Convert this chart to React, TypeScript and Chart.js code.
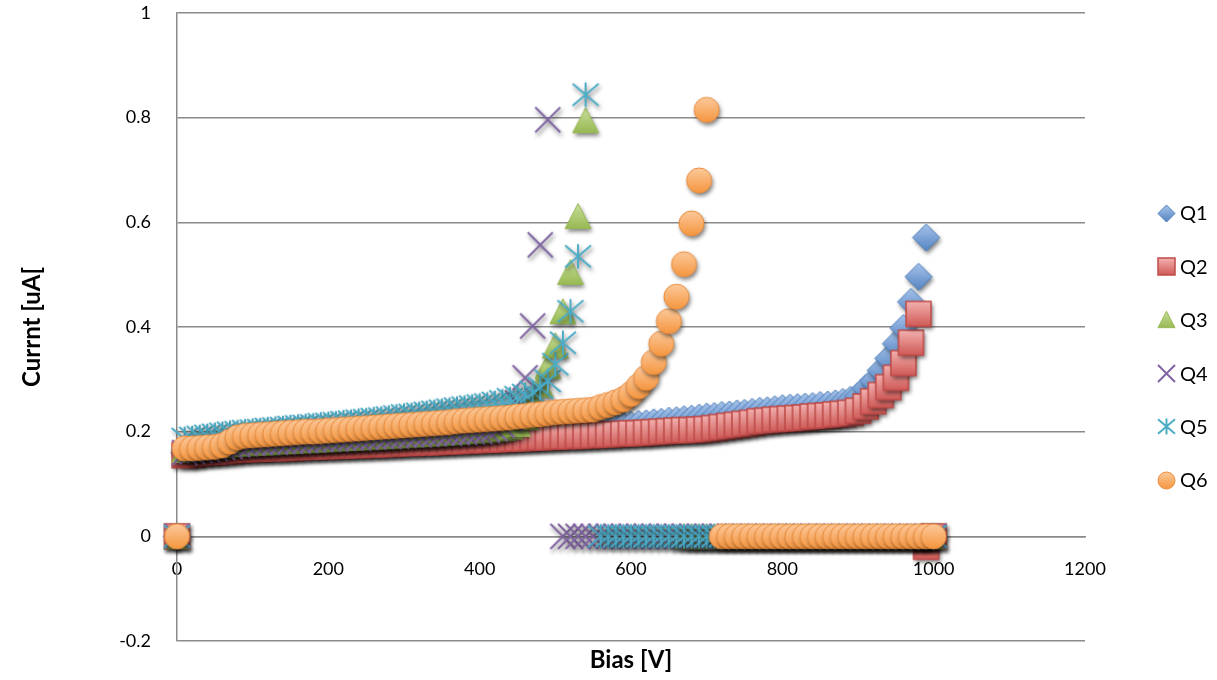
import React, { useEffect, useRef } from 'react';
import { Chart, registerables } from 'chart.js';

Chart.register(...registerables);

// ---------- data ----------
const biasV = [
  0,
  10, 20, 30, 40, 50, 60, 70, 80, 90, 100,
  110, 120, 130, 140, 150, 160, 170, 180, 190, 200,
  210, 220, 230, 240, 250, 260, 270, 280, 290, 300,
  310, 320, 330, 340, 350, 360, 370, 380, 390, 400,
  410, 420, 430, 440, 450, 460, 470, 480, 490, 500,
  510, 520, 530, 540, 550, 560, 570, 580, 590, 600,
  610, 620, 630, 640, 650, 660, 670, 680, 690, 700,
  710, 720, 730, 740, 750, 760, 770, 780, 790, 800,
  810, 820, 830, 840, 850, 860, 870, 880, 890, 900,
  910, 920, 930, 940, 950, 960, 970, 980, 990, 1000,
];

const q1 = [
  0,
  0.160, 0.162, 0.164, 0.166, 0.168, 0.170, 0.172, 0.174, 0.176, 0.177,
  0.178, 0.178, 0.179, 0.180, 0.180, 0.181, 0.182, 0.182, 0.183, 0.184,
  0.184, 0.185, 0.185, 0.186, 0.187, 0.187, 0.188, 0.188, 0.189, 0.190,
  0.190, 0.191, 0.192, 0.192, 0.193, 0.194, 0.194, 0.195, 0.196, 0.196,
  0.197, 0.198, 0.198, 0.199, 0.200, 0.200, 0.201, 0.202, 0.203, 0.203,
  0.204, 0.205, 0.205, 0.206, 0.207, 0.208, 0.209, 0.210, 0.211, 0.213,
  0.215, 0.216, 0.218, 0.219, 0.221, 0.222, 0.224, 0.225, 0.227, 0.229,
  0.230, 0.232, 0.233, 0.235, 0.236, 0.238, 0.240, 0.241, 0.243, 0.245,
  0.246, 0.247, 0.248, 0.249, 0.251, 0.252, 0.254, 0.257, 0.261, 0.268,
  0.283, 0.297, 0.317, 0.340, 0.368, 0.398, 0.448, 0.496, 0.571, 0,
];

const q2 = [
  0,
  0.155, 0.156, 0.159, 0.160, 0.161, 0.162, 0.163, 0.165, 0.166, 0.167,
  0.167, 0.168, 0.168, 0.169, 0.169, 0.170, 0.171, 0.171, 0.172, 0.172,
  0.173, 0.173, 0.174, 0.174, 0.175, 0.175, 0.176, 0.176, 0.177, 0.178,
  0.178, 0.179, 0.179, 0.180, 0.180, 0.181, 0.182, 0.182, 0.183, 0.184,
  0.184, 0.185, 0.185, 0.186, 0.187, 0.187, 0.188, 0.189, 0.189, 0.190,
  0.191, 0.191, 0.192, 0.192, 0.193, 0.194, 0.194, 0.195, 0.196, 0.197,
  0.197, 0.198, 0.199, 0.200, 0.201, 0.202, 0.203, 0.203, 0.204, 0.205,
  0.207, 0.209, 0.211, 0.213, 0.215, 0.217, 0.220, 0.221, 0.223, 0.224,
  0.225, 0.226, 0.227, 0.229, 0.230, 0.231, 0.233, 0.234, 0.236, 0.240,
  0.248, 0.258, 0.270, 0.285, 0.303, 0.331, 0.370, 0.425, -0.020, 0,
];

const q3 = [
  0,
  0.165, 0.167, 0.169, 0.170, 0.172, 0.173, 0.175, 0.176, 0.177, 0.178,
  0.179, 0.179, 0.180, 0.181, 0.182, 0.182, 0.183, 0.184, 0.185, 0.185,
  0.186, 0.187, 0.188, 0.188, 0.189, 0.190, 0.191, 0.191, 0.192, 0.193,
  0.194, 0.195, 0.195, 0.196, 0.197, 0.198, 0.199, 0.200, 0.201, 0.202,
  0.203, 0.205, 0.207, 0.210, 0.215, 0.228, 0.260, 0.290, 0.325, 0.365,
  0.430, 0.505, 0.612, 0.795, null, null, null, null, null, null,
  null, null, null, null, null, null, 0, 0, 0, 0,
  0, 0, 0, 0, 0, 0, 0, 0, 0, 0,
  0, 0, 0, 0, 0, 0, 0, 0, 0, 0,
  0, 0, 0, 0, 0, 0, 0, 0, 0, 0,
];

const q4 = [
  0,
  0.160, 0.162, 0.164, 0.166, 0.168, 0.170, 0.172, 0.175, 0.177, 0.178,
  0.179, 0.180, 0.180, 0.181, 0.182, 0.182, 0.183, 0.184, 0.185, 0.186,
  0.186, 0.187, 0.188, 0.188, 0.189, 0.190, 0.191, 0.191, 0.192, 0.193,
  0.194, 0.194, 0.195, 0.196, 0.197, 0.197, 0.198, 0.199, 0.200, 0.201,
  0.203, 0.206, 0.212, 0.225, 0.255, 0.303, 0.402, 0.557, 0.796, null,
  0, 0, 0, 0, 0, 0, 0, 0, 0, 0,
  0, 0, 0, 0, 0, 0, 0, 0, 0, 0,
  0, 0, 0, 0, 0, 0, 0, 0, 0, 0,
  0, 0, 0, 0, 0, 0, 0, 0, 0, 0,
  0, 0, 0, 0, 0, 0, 0, 0, 0, 0,
];

const q5 = [
  0,
  0.186, 0.188, 0.190, 0.192, 0.194, 0.196, 0.198, 0.199, 0.201, 0.202,
  0.203, 0.205, 0.206, 0.207, 0.209, 0.210, 0.211, 0.212, 0.214, 0.215,
  0.216, 0.218, 0.219, 0.221, 0.222, 0.224, 0.225, 0.227, 0.229, 0.231,
  0.232, 0.234, 0.236, 0.238, 0.240, 0.242, 0.244, 0.246, 0.248, 0.250,
  0.252, 0.255, 0.258, 0.262, 0.266, 0.270, 0.276, 0.284, 0.297, 0.329,
  0.370, 0.430, 0.535, 0.844, null, 0, 0, 0, 0, 0,
  0, 0, 0, 0, 0, 0, 0, 0, 0, 0,
  0, 0, 0, 0, 0, 0, 0, 0, 0, 0,
  0, 0, 0, 0, 0, 0, 0, 0, 0, 0,
  0, 0, 0, 0, 0, 0, 0, 0, 0, 0,
];

const q6 = [
  0,
  0.168, 0.168, 0.169, 0.170, 0.171, 0.174, 0.181, 0.189, 0.192, 0.193,
  0.194, 0.195, 0.196, 0.197, 0.198, 0.199, 0.200, 0.200, 0.201, 0.202,
  0.203, 0.204, 0.205, 0.206, 0.207, 0.208, 0.209, 0.210, 0.211, 0.212,
  0.213, 0.214, 0.215, 0.216, 0.217, 0.218, 0.220, 0.221, 0.222, 0.223,
  0.224, 0.225, 0.226, 0.227, 0.229, 0.230, 0.232, 0.233, 0.235, 0.237,
  0.238, 0.239, 0.240, 0.241, 0.242, 0.247, 0.251, 0.256, 0.262, 0.272,
  0.287, 0.303, 0.333, 0.368, 0.411, 0.458, 0.520, 0.598, 0.680, 0.815,
  null, 0, 0, 0, 0, 0, 0, 0, 0, 0,
  0, 0, 0, 0, 0, 0, 0, 0, 0, 0,
  0, 0, 0, 0, 0, 0, 0, 0, 0, 0,
];

const seriesNames = ['Q1', 'Q2', 'Q3', 'Q4', 'Q5', 'Q6'];
const seriesValues = [q1, q2, q3, q4, q5, q6];

const xTitle = 'Bias [V]';
const yTitle = 'Currnt [uA[';

// ---------- styling ----------
const FONT = 'Lato, "Liberation Sans", sans-serif';
const GRID = '#8a8a8a';

type Shape = 'diamond' | 'square' | 'triangle' | 'x' | 'star' | 'circle';
interface MarkerSpec { shape: Shape; top: string; bottom: string; stroke: string; lw: number; size: number; }

const markerSpecs: MarkerSpec[] = [
  { shape: 'diamond', top: '#A6C3EA', bottom: '#5584C2', stroke: '#4A7EBB', lw: 1, size: 27 },
  { shape: 'square', top: '#F3B1AF', bottom: '#CF5A57', stroke: '#BE4B48', lw: 1.5, size: 25 },
  { shape: 'triangle', top: '#CADF9C', bottom: '#96B852', stroke: '#98B954', lw: 1, size: 26 },
  { shape: 'x', top: '#8064A2', bottom: '#8064A2', stroke: '#8064A2', lw: 2, size: 25 },
  { shape: 'star', top: '#4BACC6', bottom: '#4BACC6', stroke: '#4BACC6', lw: 2, size: 26 },
  { shape: 'circle', top: '#FCC99B', bottom: '#F5963F', stroke: '#EB8C3C', lw: 1, size: 25 },
];

function makeMarker(spec: MarkerSpec, size: number, shadow: boolean): HTMLCanvasElement {
  const m = shadow ? 8 : 3;
  const dim = Math.ceil(size + 2 * m);
  const c = document.createElement('canvas');
  c.width = dim;
  c.height = dim;
  const ctx = c.getContext('2d') as CanvasRenderingContext2D;
  const cx = dim / 2;
  const cy = dim / 2;
  const h = size / 2;
  const setShadow = (on: boolean) => {
    if (on && shadow) {
      ctx.shadowColor = 'rgba(0,0,0,0.5)';
      ctx.shadowBlur = 4;
      ctx.shadowOffsetX = 1.5;
      ctx.shadowOffsetY = 3;
    } else {
      ctx.shadowColor = 'rgba(0,0,0,0)';
      ctx.shadowBlur = 0;
      ctx.shadowOffsetX = 0;
      ctx.shadowOffsetY = 0;
    }
  };
  const grad = ctx.createLinearGradient(0, cy - h, 0, cy + h);
  grad.addColorStop(0, spec.top);
  grad.addColorStop(1, spec.bottom);
  ctx.lineJoin = 'miter';
  ctx.beginPath();
  let filled = true;
  switch (spec.shape) {
    case 'diamond':
      ctx.moveTo(cx, cy - h);
      ctx.lineTo(cx + h, cy);
      ctx.lineTo(cx, cy + h);
      ctx.lineTo(cx - h, cy);
      ctx.closePath();
      break;
    case 'square':
      ctx.rect(cx - h, cy - h, 2 * h, 2 * h);
      break;
    case 'triangle':
      ctx.moveTo(cx, cy - h * 0.96);
      ctx.lineTo(cx + h, cy + h * 0.96);
      ctx.lineTo(cx - h, cy + h * 0.96);
      ctx.closePath();
      break;
    case 'circle':
      ctx.arc(cx, cy, h, 0, Math.PI * 2);
      break;
    case 'x':
      filled = false;
      ctx.moveTo(cx - h, cy - h);
      ctx.lineTo(cx + h, cy + h);
      ctx.moveTo(cx + h, cy - h);
      ctx.lineTo(cx - h, cy + h);
      break;
    case 'star':
      filled = false;
      ctx.moveTo(cx - h, cy - h * 0.85);
      ctx.lineTo(cx + h, cy + h * 0.85);
      ctx.moveTo(cx + h, cy - h * 0.85);
      ctx.lineTo(cx - h, cy + h * 0.85);
      ctx.moveTo(cx, cy - h * 0.95);
      ctx.lineTo(cx, cy + h * 0.95);
      break;
  }
  if (filled) {
    setShadow(true);
    ctx.fillStyle = grad;
    ctx.fill();
    setShadow(false);
    ctx.lineWidth = spec.lw;
    ctx.strokeStyle = spec.stroke;
    ctx.stroke();
  } else {
    setShadow(true);
    ctx.lineWidth = spec.lw;
    ctx.strokeStyle = spec.stroke;
    ctx.stroke();
  }
  return c;
}

const legendPlugin = {
  id: 'excelLegend',
  afterDraw(chart: any, _args: any, opts: any) {
    const { ctx, chartArea } = chart;
    const markers: HTMLCanvasElement[] = opts.markers;
    ctx.save();
    ctx.font = `20px ${FONT}`;
    ctx.fillStyle = '#000';
    ctx.textAlign = 'left';
    ctx.textBaseline = 'middle';
    const mx = chartArea.right + 81.5;
    const tx = chartArea.right + 95;
    const y0 = 213;
    const step = 53.4;
    seriesNames.forEach((name, i) => {
      const y = y0 + i * step;
      const img = markers[i];
      ctx.drawImage(img, Math.round(mx - img.width / 2), Math.round(y - img.height / 2));
      ctx.fillText(name, tx, y + 1);
    });
    ctx.restore();
  },
};

export default function App() {
  const ref = useRef<HTMLCanvasElement | null>(null);

  useEffect(() => {
    const canvas = ref.current;
    if (!canvas) return;
    const pointMarkers = markerSpecs.map((s) => makeMarker(s, s.size, true));
    const legendMarkers = markerSpecs.map((s) => makeMarker(s, 17, false));

    const datasets = seriesNames.map((name, i) => {
      const vals = seriesValues[i];
      const data: { x: number; y: number }[] = [];
      biasV.forEach((v, j) => {
        const y = vals[j];
        if (y !== null && y !== undefined) data.push({ x: v, y: y as number });
      });
      return {
        label: name,
        data,
        showLine: false,
        pointStyle: pointMarkers[i] as any,
        pointRadius: 12,
        pointHoverRadius: 12,
        clip: false as any,
        order: 6 - i,
      };
    });

    const tickFont = { family: FONT, size: 18 };
    const titleFont = { family: FONT, size: 24, weight: 'bold' as const };

    const chart = new Chart(canvas, {
      type: 'scatter',
      data: { datasets },
      options: {
        responsive: false,
        animation: false,
        events: [],
        layout: { padding: { top: 12, right: 132, left: 0, bottom: 0 } },
        plugins: {
          legend: { display: false },
          tooltip: { enabled: false },
          title: {
            display: true,
            text: xTitle,
            position: 'bottom',
            fullSize: false,
            color: '#000',
            font: titleFont,
            padding: { top: 4.6, bottom: 5.6 },
          },
          excelLegend: { markers: legendMarkers },
        } as any,
        scales: {
          x: {
            type: 'linear',
            position: { y: 0 } as any,
            min: 0,
            max: 1200,
            ticks: {
              stepSize: 200,
              color: '#000',
              font: tickFont,
              padding: 22,
              maxRotation: 0,
              autoSkip: false,
              callback: (v: any) => String(Math.round(Number(v))),
            },
            grid: { display: false, drawTicks: false },
            border: { display: true, color: GRID, width: 1.5 },
            afterFit: (s: any) => { s.height = 0; s.paddingTop = 0; s.paddingBottom = 0; },
          },
          y: {
            type: 'linear',
            min: -0.2,
            max: 1,
            ticks: {
              stepSize: 0.2,
              color: '#000',
              font: tickFont,
              padding: 26,
              callback: (v: any) => String(Math.round(Number(v) * 10) / 10),
            },
            grid: { color: GRID, lineWidth: 1.5, drawTicks: false },
            border: { display: true, color: GRID, width: 1.5 },
            title: {
              display: true,
              text: yTitle,
              color: '#000',
              font: titleFont,
              padding: { top: 17.6, bottom: 0 },
            },
            afterFit: (s: any) => { s.width = 177; s.paddingTop = 0; s.paddingBottom = 0; },
          },
        },
      },
      plugins: [legendPlugin as any],
    });
    return () => chart.destroy();
  }, []);

  return (
    <div style={{ position: 'absolute', left: 0, top: 0, width: 1217, height: 680, background: '#fff' }}>
      <canvas ref={ref} width={1217} height={680} style={{ display: 'block' }} />
    </div>
  );
}
